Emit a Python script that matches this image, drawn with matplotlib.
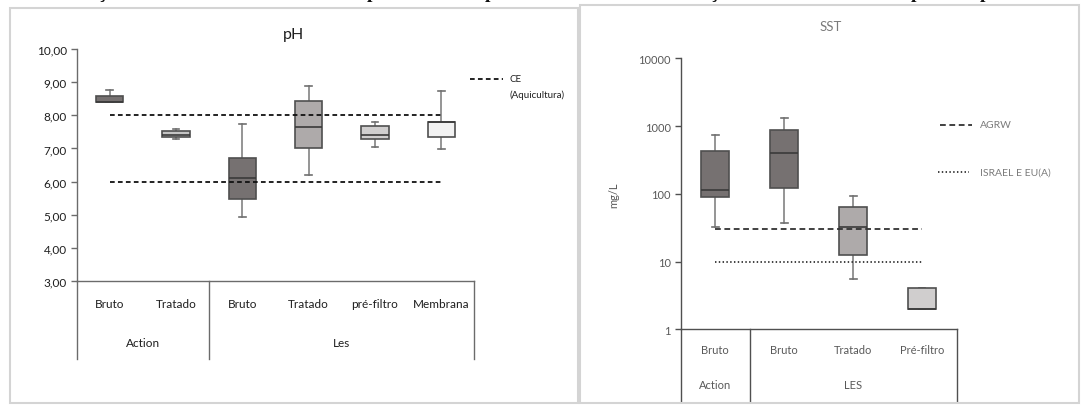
import numpy as np
import matplotlib
matplotlib.use("Agg")
import matplotlib.pyplot as plt
import matplotlib.transforms as mtransforms
from matplotlib.patches import Rectangle
from matplotlib.lines import Line2D

# pH data (left chart)
ph_labels = ['Bruto', 'Tratado', 'Bruto', 'Tratado', 'pré-filtro', 'Membrana']
ph_groups = ['Action', 'Les']
ph_group_sizes = [2, 4]
ph_lo = [8.40, 7.28, 4.93, 6.21, 7.04, 6.98]
ph_q1 = [8.40, 7.34, 5.46, 7.02, 7.28, 7.34]
ph_med = [8.40, 7.42, 6.10, 7.64, 7.40, 7.81]
ph_q3 = [8.59, 7.53, 6.71, 8.44, 7.69, 7.81]
ph_hi = [8.77, 7.58, 7.74, 8.88, 7.81, 8.74]
ph_limits = [6.0, 8.0]
ph_ticks = [3, 4, 5, 6, 7, 8, 9, 10]

# SST data (right chart)
sst_labels = ['Bruto', 'Bruto', 'Tratado', 'Pré-filtro']
sst_groups = ['Action', 'LES']
sst_group_sizes = [1, 3]
sst_lo = [32.9, 37.0, 5.55, 2.0]
sst_q1 = [90.6, 122.0, 12.6, 2.0]
sst_med = [115.0, 405.0, 32.6, 2.0]
sst_q3 = [424.0, 867.0, 63.0, 4.04]
sst_hi = [731.0, 1322.0, 92.8, 4.04]
sst_agrw = 30
sst_israel = 10
sst_ticks = [1, 10, 100, 1000, 10000]

ph_colors = ['#767171', '#c4c4c4', '#767171', '#aeaaaa', '#d0cece', '#f2f2f2']
sst_colors = ['#767171', '#767171', '#aeaaaa', '#d0cece']

W, H = 1081, 406
plt.rcParams['font.family'] = ['Lato', 'DejaVu Sans']

fig = plt.figure(figsize=(W / 100, H / 100), dpi=100)


def fx(x):
    return x / W


def fy(y):
    return 1 - y / H


def make_stats(lo, q1, med, q3, hi, labels):
    return [dict(whislo=a, q1=b, med=c, q3=d, whishi=e, fliers=[], label=l)
            for a, b, c, d, e, l in zip(lo, q1, med, q3, hi, labels)]


def draw_boxes(ax, stats, colors, width, capw, edge):
    pos = np.arange(len(stats))
    bp = ax.bxp(stats, positions=pos, widths=width, capwidths=capw,
                patch_artist=True, showfliers=False, manage_ticks=False,
                boxprops=dict(edgecolor=edge, linewidth=1.2),
                whiskerprops=dict(color='#8c8c8c', linewidth=1.3),
                capprops=dict(color='#707070', linewidth=1.2),
                medianprops=dict(color='#3a3a3a', linewidth=1.2))
    for patch, c in zip(bp['boxes'], colors):
        patch.set_facecolor(c)
        patch.set_zorder(3)
    for m in bp['medians']:
        m.set_zorder(4)


def category_axis(ax, labels, groups, sizes, lab_y, grp_y, line_y, color, fs):
    trans = mtransforms.blended_transform_factory(ax.transData, ax.transAxes)
    ax.set_xticks([])
    for i, lab in enumerate(labels):
        ax.text(i, lab_y, lab, transform=trans, ha='center', va='center',
                fontsize=fs, color=color)
    start = 0
    bounds = [-0.5]
    for g, n in zip(groups, sizes):
        ax.text(start + (n - 1) / 2, grp_y, g, transform=trans, ha='center',
                va='center', fontsize=fs, color=color)
        start += n
        bounds.append(start - 0.5)
    for b in bounds:
        ax.plot([b, b], [0, line_y], transform=trans, color=ax.spines['bottom'].get_edgecolor(),
                linewidth=1.0, clip_on=False)


# panel frames
fig.add_artist(Rectangle((fx(10), fy(404)), fx(568), 395 / H, transform=fig.transFigure,
                         fill=False, edgecolor='#d4d4d4', linewidth=1.5))
fig.add_artist(Rectangle((fx(580), fy(404)), fx(499), 398 / H, transform=fig.transFigure,
                         fill=False, edgecolor='#d4d4d4', linewidth=1.5))

# caption fragments cut at the top (as in the screenshot)
for x, ch in [(102, 'ç'), (372, 'p'), (490, 'p'), (714, 'ç'), (916, 'p'), (985, 'p')]:
    fig.text(fx(x), 1 + 1.5 / H, ch, family='Liberation Serif', weight='bold',
             fontsize=14, ha='center', va='baseline', color='#111111')

# ---------- pH ----------
ax1 = fig.add_axes([fx(76.5), fy(282), 398 / W, 232 / H])
ax1.set_xlim(-0.5, 5.5)
ax1.set_ylim(3, 10)
for s in ['top', 'right']:
    ax1.spines[s].set_visible(False)
for s in ['left', 'bottom']:
    ax1.spines[s].set_color('#6b6b6b')
    ax1.spines[s].set_linewidth(1.0)
ax1.set_yticks(ph_ticks)
ax1.set_yticklabels([f"{v:.2f}".replace('.', ',') for v in ph_ticks])
ax1.tick_params(axis='y', direction='out', length=4, width=1.0, color='#6b6b6b',
                labelsize=8.5, labelcolor='#1e1e1e', pad=3)

draw_boxes(ax1, make_stats(ph_lo, ph_q1, ph_med, ph_q3, ph_hi, ph_labels),
           ph_colors, 0.415, 0.1, '#4f4f4f')
for lim in ph_limits:
    ax1.hlines(lim, 0, len(ph_labels) - 1, colors='#111111', linewidth=1.3,
               linestyles=(0, (2.6, 1.8)), zorder=5)
category_axis(ax1, ph_labels, ph_groups, ph_group_sizes, -0.099, -0.263, -0.336,
              '#1e1e1e', 8.5)

fig.text(fx(294), fy(35), 'pH', ha='center', va='center', fontsize=11.5, color='#1e1e1e')

fig.add_artist(Line2D([fx(470), fx(503)], [fy(80), fy(80)], color='#111111',
                      linewidth=1.3, linestyle=(0, (2.6, 1.8))))
fig.text(fx(510), fy(80), 'CE', ha='left', va='center', fontsize=7, color='#1e1e1e')
fig.text(fx(510), fy(95), '(Aquicultura)', ha='left', va='center', fontsize=7, color='#1e1e1e')

# ---------- SST ----------
ax2 = fig.add_axes([fx(680.7), fy(330.3), 275.8 / W, 271 / H])
ax2.set_xlim(-0.5, 3.5)
ax2.set_yscale('log')
ax2.set_ylim(1, 10000)
for s in ['top', 'right']:
    ax2.spines[s].set_visible(False)
for s in ['left', 'bottom']:
    ax2.spines[s].set_color('#505050')
    ax2.spines[s].set_linewidth(1.0)
ax2.set_yticks(sst_ticks)
ax2.set_yticklabels([str(v) for v in sst_ticks])
ax2.minorticks_off()
ax2.tick_params(axis='y', direction='out', length=4, width=1.0, color='#505050',
                labelsize=8, labelcolor='#595959', pad=3)
ax2.set_ylabel('mg/L', fontsize=8, color='#595959', labelpad=14)

draw_boxes(ax2, make_stats(sst_lo, sst_q1, sst_med, sst_q3, sst_hi, sst_labels),
           sst_colors, 0.40, 0.1, '#4f4f4f')
ax2.hlines(sst_agrw, 0, len(sst_labels) - 1, colors='#333333', linewidth=1.3,
           linestyles=(0, (3.2, 2.0)), zorder=5)
ax2.hlines(sst_israel, 0, len(sst_labels) - 1, colors='#333333', linewidth=1.3,
           linestyles=(0, (0.8, 1.3)), zorder=5)
category_axis(ax2, sst_labels, sst_groups, sst_group_sizes, -0.0753, -0.2055, -0.263,
              '#595959', 8)

fig.text(fx(831), fy(27), 'SST', ha='center', va='center', fontsize=9.5, color='#7a7a7a')

fig.add_artist(Line2D([fx(940), fx(972)], [fy(126), fy(126)], color='#333333',
                      linewidth=1.3, linestyle=(0, (3.2, 2.0))))
fig.text(fx(980), fy(126), 'AGRW', ha='left', va='center', fontsize=7.5, color='#7a7a7a')
fig.add_artist(Line2D([fx(938), fx(969)], [fy(172.7), fy(172.7)], color='#333333',
                      linewidth=1.3, linestyle=(0, (0.8, 1.3))))
fig.text(fx(980), fy(172.7), 'ISRAEL E EU(A)', ha='left', va='center', fontsize=7.5,
         color='#7a7a7a')

fig.savefig('out.png', dpi=100)
